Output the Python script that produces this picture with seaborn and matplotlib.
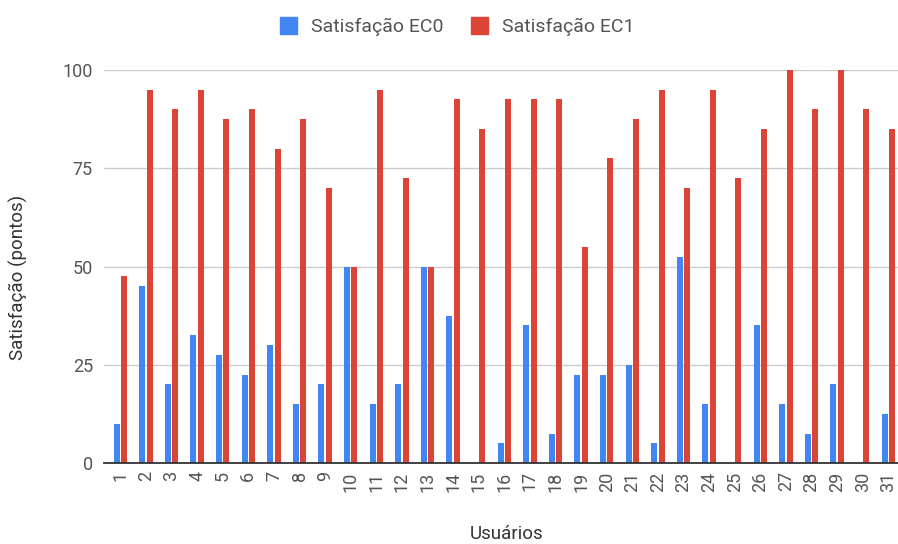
import matplotlib
matplotlib.use("Agg")
import matplotlib.pyplot as plt
import seaborn as sns
import pandas as pd

usuarios = [str(i) for i in range(1, 32)]
ec0 = [10, 45, 20, 32.5, 27.5, 22.5, 30, 15, 20, 50,
       15, 20, 50, 37.5, 0, 5, 35, 7.5, 22.5, 22.5,
       25, 5, 52.5, 15, 0, 35, 15, 7.5, 20, 0, 12.5]
ec1 = [47.5, 95, 90, 95, 87.5, 90, 80, 87.5, 70, 50,
       95, 72.5, 50, 92.5, 85, 92.5, 92.5, 92.5, 55, 77.5,
       87.5, 95, 70, 95, 72.5, 85, 100, 90, 100, 90, 85]
series = ["Satisfação EC0", "Satisfação EC1"]
colors = ["#4285F4", "#DB4437"]
yticks = [0, 25, 50, 75, 100]

df = pd.DataFrame({
    "Usuários": usuarios * 2,
    "Satisfação": ec0 + ec1,
    "Série": [series[0]] * len(usuarios) + [series[1]] * len(usuarios),
})

sns.set_theme(style="white")
plt.rcParams["font.family"] = ["Roboto", "DejaVu Sans"]

fig = plt.figure(figsize=(8.98, 5.44), dpi=100)
ax = fig.add_axes([104 / 898, 81 / 544, 794 / 898, 393 / 544])

sns.barplot(data=df, x="Usuários", y="Satisfação", hue="Série",
            order=usuarios, hue_order=series, palette=colors,
            width=0.58, gap=0.18, linewidth=0, saturation=1, ax=ax)

ax.set_xlim(-0.637, 30.379)
ax.set_ylim(0, 100)
ax.set_yticks(yticks)
ax.set_yticklabels([str(t) for t in yticks])
ax.yaxis.grid(True, color="#cccccc", linewidth=1)
ax.set_axisbelow(True)
for s in ["top", "right", "left"]:
    ax.spines[s].set_visible(False)
ax.spines["bottom"].set_color("#333333")
ax.spines["bottom"].set_linewidth(1.3)
ax.tick_params(axis="both", length=0, labelsize=13, colors="#555555")
ax.tick_params(axis="x", rotation=90, pad=6)
ax.tick_params(axis="y", pad=8)

ax.set_xlabel("")
ax.set_ylabel("")
fig.text(507 / 898, 1 - 534 / 544, "Usuários", fontsize=13.5,
         color="#333333", ha="center", va="center")
fig.text(18 / 898, 1 - 277 / 544, "Satisfação (pontos)", fontsize=13.5,
         color="#333333", ha="center", va="center", rotation=90)

ax.legend_.remove()
handles = [plt.Rectangle((0, 0), 1, 1, color=c) for c in colors]
fig.legend(handles, series, loc="center", bbox_to_anchor=(0.509, 0.951),
           ncol=2, frameon=False, fontsize=14, handlelength=0.88,
           handleheight=0.95, handletextpad=0.72, columnspacing=1.4,
           labelcolor="#555555")

fig.savefig("out.png", dpi=100)
